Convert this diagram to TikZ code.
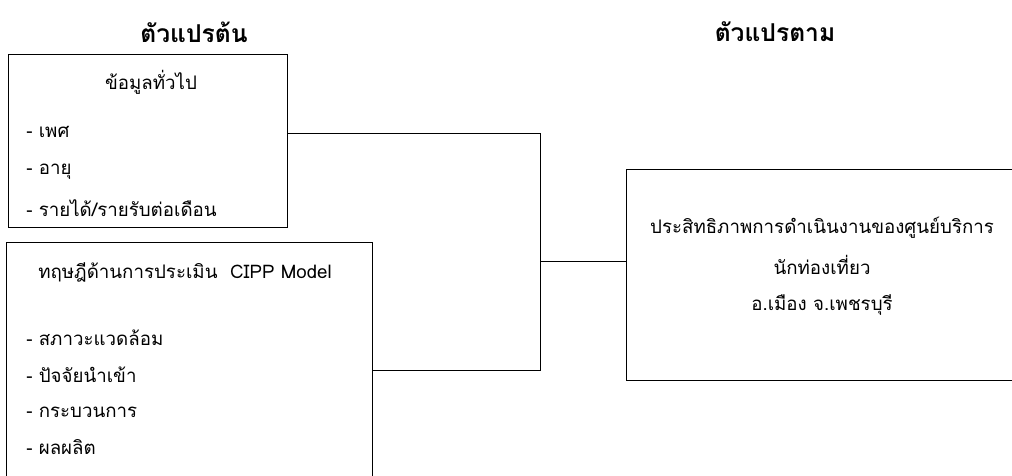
\documentclass[tikz,border=0pt]{standalone}
\usepackage{fontspec}
\newfontfamily\thaifont[Script=Thai]{Loma}
\usetikzlibrary{positioning}

\tikzset{
  frame/.style={draw, line width=0.7pt, inner sep=0pt},
  txt/.style={font=\thaifont\fontsize{13.3}{16}\selectfont, anchor=west, inner sep=0pt},
  ctxt/.style={font=\thaifont\fontsize{13.3}{16}\selectfont, inner sep=0pt},
  head/.style={font=\thaifont\bfseries\fontsize{17.5}{21}\selectfont, inner sep=0pt},
  wire/.style={line width=0.7pt}
}

\begin{document}
\begin{tikzpicture}[x=0.025cm,y=-0.025cm]
	\clip (0,0) rectangle (1012,475);
	% titles
	\node[head] (indep) at (194,32) {ตัวแปรต้น};
	\node[head] (dep) at (775,32) {ตัวแปรตาม};
	% boxes
	\node[frame, minimum width=6.95cm, minimum height=4.3cm] (general) at (148,141) {};
	\node[frame, minimum width=9.125cm, minimum height=6.925cm] (cipp) at (189.5,381.5) {};
	\node[frame, minimum width=10.325cm, minimum height=5.25cm] (result) at (833.5,275) {};
	% general info
	\node[ctxt] (gtitle) at (151,82) {ข้อมูลทั่วไป};
	\node[txt] (sex) at (26,132) {- เพศ};
	\node[txt] (age) at (26,172) {- อายุ};
	\node[txt] (income) at (26,208) {- รายได้/รายรับต่อเดือน};
	% cipp model
	\node[txt] (ctitle) at (38,272) {ทฤษฎีด้านการประเมิน\ \ CIPP Model};
	\node[txt] (context) at (26,338) {- สภาวะแวดล้อม};
	\node[txt] (input) at (26,375) {- ปัจจัยนำเข้า};
	\node[txt] (process) at (26,412) {- กระบวนการ};
	\node[txt] (product) at (26,447) {- ผลผลิต};
	% result
	\node[ctxt] (r1) at (822,228) {ประสิทธิภาพการดำเนินงานของศูนย์บริการ};
	\node[ctxt] (r2) at (822,265) {นักท่องเที่ยว};
	\node[ctxt] (r3) at (822,305) {อ.เมือง จ.เพชรบุรี};
	% connectors
	\coordinate (jtop) at (540,133);
	\coordinate (jmid) at (540,261);
	\coordinate (jbot) at (540,370);
	\draw[wire] (general.east |- jtop) -- (jtop) -- (jbot) -- (cipp.east |- jbot);
	\draw[wire] (jmid) -- (result.west |- jmid);
\end{tikzpicture}
\end{document}
